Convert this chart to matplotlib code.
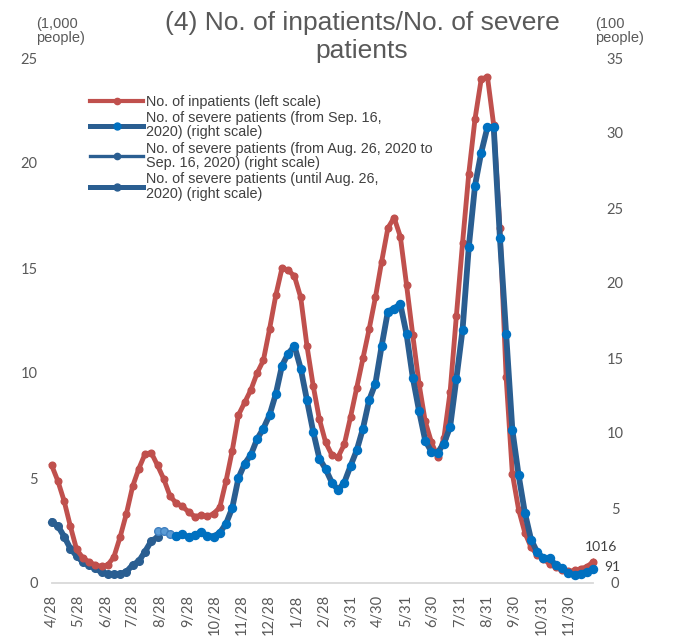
import matplotlib
matplotlib.use("Agg")
import matplotlib.pyplot as plt
from matplotlib.lines import Line2D
import numpy as np
import pandas as pd

# weekly points from 2020-04-28
dates = pd.date_range("2020-04-28", periods=88, freq="7D")

# No. of inpatients (1,000 people, left scale)
inpatients = [5.6, 4.85, 3.9, 2.7, 1.6, 1.2, 1.0, 0.86, 0.79, 0.85,
              1.25, 2.2, 3.3, 4.6, 5.45, 6.15, 6.2, 5.6, 4.95, 4.15,
              3.8, 3.65, 3.38, 3.16, 3.23, 3.17, 3.3, 3.6, 4.85, 6.3,
              8.0, 8.6, 9.2, 10.0, 10.6, 12.1, 13.7, 15.0, 14.9, 14.6,
              13.6, 11.3, 9.4, 7.8, 6.7, 6.1, 6.0, 6.6, 7.9, 9.3,
              10.7, 12.1, 13.6, 15.3, 16.9, 17.4, 16.5, 14.2, 11.8, 9.5,
              7.7, 6.7, 6.0, 6.9, 9.1, 12.7, 16.2, 19.5, 22.1, 24.0,
              24.1, 21.8, 16.9, 9.8, 5.2, 3.5, 2.4, 1.7, 1.35, 1.15,
              0.9, 0.75, 0.6, 0.55, 0.6, 0.68, 0.78, 1.016]

# No. of severe patients (100 people, right scale), three definitions
severe_old = [4.07, 3.8, 3.1, 2.3, 1.8, 1.4, 1.2, 0.97, 0.72, 0.6,
              0.58, 0.6, 0.75, 1.2, 1.45, 2.1, 2.8, 3.05]          # weeks 0-17
severe_mid = [3.5, 3.5, 3.3, 3.15]                                  # weeks 17-20
severe_new = [3.15, 3.25, 3.05, 3.2, 3.4, 3.15, 3.1, 3.35, 3.95, 5.0,
              7.0, 7.95, 8.55, 9.6, 10.3, 11.2, 12.6, 14.5, 15.3, 15.8,
              14.3, 12.2, 10.1, 8.3, 7.6, 6.7, 6.2, 6.7, 7.8, 8.85,
              10.3, 12.2, 13.3, 15.8, 18.1, 18.3, 18.6, 16.6, 13.7, 11.5,
              9.5, 8.75, 8.7, 9.3, 10.4, 13.6, 16.9, 22.4, 26.5, 28.7,
              30.4, 30.4, 23.0, 16.6, 10.2, 7.2, 4.7, 2.9, 2.05, 1.65,
              1.65, 1.17, 0.97, 0.65, 0.53, 0.63, 0.75, 0.91]       # weeks 20-87

tick_dates = pd.to_datetime(["2020-04-28", "2020-05-28", "2020-06-28", "2020-07-28",
                             "2020-08-28", "2020-09-28", "2020-10-28", "2020-11-28",
                             "2020-12-28", "2021-01-28", "2021-02-28", "2021-03-31",
                             "2021-04-30", "2021-05-31", "2021-06-30", "2021-07-31",
                             "2021-08-31", "2021-09-30", "2021-10-31", "2021-11-30"])
tick_text = ["4/28", "5/28", "6/28", "7/28", "8/28", "9/28", "10/28", "11/28",
             "12/28", "1/28", "2/28", "3/31", "4/30", "5/31", "6/30", "7/31",
             "8/31", "9/30", "10/31", "11/30"]
left_ticks = [0, 5, 10, 15, 20, 25]
right_ticks = [0, 5, 10, 15, 20, 25, 30, 35]

RED = "#C0504D"
NAVY = "#2A5E91"
BRIGHT = "#0070C0"
MIDFACE = "#5B9BD5"
TICKC = "#595959"
TEXTC = "#404040"
NUMFONT = "Lato"
TXTFONT = "Liberation Sans"

W, H = 676, 643
fig = plt.figure(figsize=(W / 100, H / 100), dpi=100)
ax = fig.add_axes([51.7 / W, 60 / H, (593.3 - 51.7) / W, 525 / H])
ax.set_xlim(dates[0], dates[-1])
ax.set_ylim(0, 25)
ax2 = ax.twinx()
ax2.set_ylim(0, 35)

# severe (until Aug 26) sits under the inpatient line, the newer series above it
ax2.plot(dates[:18], severe_old, color=NAVY, lw=4.2, marker="o", ms=5.5,
         mfc=NAVY, mec=NAVY, zorder=2, clip_on=False)
ax2.plot(dates, inpatients, color=RED, lw=3.5, marker="o", ms=4.8,
         mfc=RED, mec=RED, zorder=3, clip_on=False, transform=ax.transData)
ax2.plot(dates[17:21], severe_mid, color=NAVY, lw=2.0, marker="o", ms=5.5,
         mfc=MIDFACE, mec="#3F7FBF", zorder=4, clip_on=False)
ax2.plot(dates[20:], severe_new, color=NAVY, lw=4.2, marker="o", ms=5.8,
         mfc=BRIGHT, mec=BRIGHT, zorder=4, clip_on=False)
ax2.set_ylim(0, 35)

# axes styling
for a in (ax, ax2):
    for s in a.spines.values():
        s.set_visible(False)
ax.spines["bottom"].set_visible(True)
ax.spines["bottom"].set_color("#D9D9D9")
ax.spines["bottom"].set_linewidth(1.3)

ax.set_xticks(tick_dates)
ax.set_xticklabels(tick_text, rotation=90, fontfamily=NUMFONT, fontsize=10.5, color=TICKC)
ax.tick_params(axis="x", length=0, pad=8.5)
ax.set_yticks(left_ticks)
ax.set_yticklabels([str(v) for v in left_ticks], fontfamily=NUMFONT, fontsize=10.5, color=TICKC)
ax.tick_params(axis="y", length=0, pad=10)
ax2.set_yticks(right_ticks)
ax2.set_yticklabels([str(v) for v in right_ticks], fontfamily=NUMFONT, fontsize=10.5, color=TICKC)
ax2.tick_params(axis="y", length=0, pad=15.8)
for lab in ax2.get_yticklabels():
    lab.set_horizontalalignment("center")

# end labels
ax.annotate("1016", xy=(dates[-1], inpatients[-1]),
            xytext=(5.5, 10.5), textcoords="offset points", ha="center", va="center",
            fontfamily=NUMFONT, fontsize=10, color=TEXTC, annotation_clip=False)
ax2.annotate("91", xy=(dates[-1], severe_new[-1]), xytext=(13.5, 2),
             textcoords="offset points", ha="center", va="center",
             fontfamily=NUMFONT, fontsize=10, color=TEXTC, annotation_clip=False)

# title and unit labels
fig.text(362 / W, 1 - 37 / H, "(4) No. of inpatients/No. of severe\npatients",
         ha="center", va="center", fontfamily=TXTFONT, fontsize=19,
         color=TICKC, linespacing=1.2)
fig.text(36 / W, 1 - 31 / H, "(1,000\npeople)", ha="left", va="center",
         fontfamily=TXTFONT, fontsize=10.5, color=TICKC, linespacing=1.05)
fig.text(595 / W, 1 - 31 / H, "(100\npeople)", ha="left", va="center",
         fontfamily=TXTFONT, fontsize=10.5, color=TICKC, linespacing=1.05)

# legend
handles = [
    Line2D([], [], color=RED, lw=3.0, marker="o", ms=4.5, mfc=RED, mec=RED),
    Line2D([], [], color=NAVY, lw=3.6, marker="o", ms=5, mfc=BRIGHT, mec=BRIGHT),
    Line2D([], [], color=NAVY, lw=2.4, marker="o", ms=4.5, mfc=NAVY, mec=NAVY),
    Line2D([], [], color=NAVY, lw=3.6, marker="o", ms=5, mfc=NAVY, mec=NAVY),
]
labels = [
    "No. of inpatients (left scale)",
    "No. of severe patients (from Sep. 16,\n2020) (right scale)",
    "No. of severe patients (from Aug. 26, 2020 to\nSep. 16, 2020) (right scale)",
    "No. of severe patients (until Aug. 26,\n2020) (right scale)",
]
leg = ax2.legend(handles, labels, loc="upper left", bbox_to_anchor=(0.0707, 0.93),
                 frameon=False, borderpad=0, borderaxespad=0, handlelength=3.7,
                 handletextpad=0.15, labelspacing=0.15,
                 prop={"family": TXTFONT, "size": 10.4})
for t in leg.get_texts():
    t.set_color(TEXTC)
    t.set_linespacing(1.05)

fig.savefig("out.png", dpi=100)
